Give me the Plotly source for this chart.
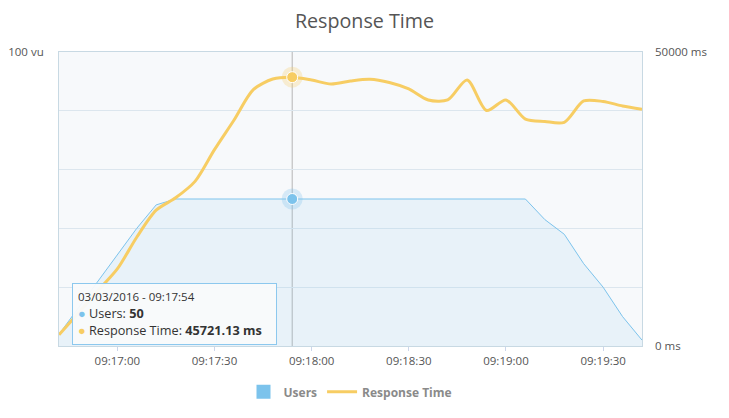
import plotly.graph_objects as go

# ---- data ----
times = [
    "2016-03-03 09:16:42", "2016-03-03 09:16:48", "2016-03-03 09:16:54",
    "2016-03-03 09:17:00", "2016-03-03 09:17:06", "2016-03-03 09:17:12",
    "2016-03-03 09:17:18", "2016-03-03 09:17:24", "2016-03-03 09:17:30",
    "2016-03-03 09:17:36", "2016-03-03 09:17:42", "2016-03-03 09:17:48",
    "2016-03-03 09:17:54", "2016-03-03 09:18:00", "2016-03-03 09:18:06",
    "2016-03-03 09:18:12", "2016-03-03 09:18:18", "2016-03-03 09:18:24",
    "2016-03-03 09:18:30", "2016-03-03 09:18:36", "2016-03-03 09:18:42",
    "2016-03-03 09:18:48", "2016-03-03 09:18:54", "2016-03-03 09:19:00",
    "2016-03-03 09:19:06", "2016-03-03 09:19:12", "2016-03-03 09:19:18",
    "2016-03-03 09:19:24", "2016-03-03 09:19:30", "2016-03-03 09:19:36",
    "2016-03-03 09:19:42",
]
users = [4, 13, 22, 31, 40, 48, 50, 50, 50, 50, 50, 50, 50, 50, 50, 50, 50, 50,
         50, 50, 50, 50, 50, 50, 50, 43, 38, 28, 20, 10, 2]
response_ms = [1900, 5600, 9400, 13100, 18500, 23100, 25200, 28000, 33400, 38400,
               43600, 45400, 45721.13, 45240, 44560, 45070, 45360, 44810, 43710,
               41840, 41840, 45240, 40050, 41840, 38600, 38180, 38050, 41670,
               41580, 40820, 40260]
x_tick_labels_format = "%H:%M:%S"
left_tickvals = [0, 20, 40, 60, 80, 100]
left_ticktext = ["", "", "", "", "", "100 vu"]
right_tickvals = [0, 50000]
right_ticktext = ["0 ms", "50000 ms"]
hover_idx = 12

BLUE = "#7cc3ec"
YELLOW = "#f7cd63"
FONT = "Open Sans"

fig = go.Figure()

# legend-only marker for Users
fig.add_trace(go.Scatter(x=[None], y=[None], mode="markers", name="Users",
                         marker=dict(symbol="square", size=14, color=BLUE)))
fig.add_trace(go.Scatter(x=times, y=users, mode="lines", name="Users", showlegend=False,
                         line=dict(color=BLUE, width=1), fill="tozeroy",
                         fillcolor="rgba(124,195,236,0.12)", yaxis="y"))
fig.add_trace(go.Scatter(x=times, y=response_ms, mode="lines", name="Response Time",
                         line=dict(color=YELLOW, width=3, shape="spline", smoothing=0.8),
                         yaxis="y2"))

# hover markers
hx = [times[hover_idx]]
fig.add_trace(go.Scatter(x=hx, y=[users[hover_idx]], mode="markers", showlegend=False,
                         marker=dict(size=21, color="rgba(124,195,236,0.28)"), yaxis="y"))
fig.add_trace(go.Scatter(x=hx, y=[users[hover_idx]], mode="markers", showlegend=False,
                         marker=dict(size=11, color=BLUE, line=dict(color="white", width=1)),
                         yaxis="y"))
fig.add_trace(go.Scatter(x=hx, y=[response_ms[hover_idx]], mode="markers", showlegend=False,
                         marker=dict(size=21, color="rgba(247,205,99,0.28)"), yaxis="y2"))
fig.add_trace(go.Scatter(x=hx, y=[response_ms[hover_idx]], mode="markers", showlegend=False,
                         marker=dict(size=11, color=YELLOW, line=dict(color="white", width=1)),
                         yaxis="y2"))

# crosshair
fig.add_shape(type="line", xref="x", yref="paper", x0=times[hover_idx], x1=times[hover_idx],
              y0=0, y1=1, line=dict(color="#b5b5b5", width=1), layer="below")

# tooltip
date_part, time_part = times[hover_idx].split(" ")
yy, mm, dd = date_part.split("-")
tooltip = (f'<span style="font-size:11.5px">{dd}/{mm}/{yy} - {time_part}</span><br>'
           f'<span style="color:{BLUE}">●</span> Users: <b>{users[hover_idx]}</b><br>'
           f'<span style="color:{YELLOW}">●</span> Response Time: <b>{response_ms[hover_idx]:.2f} ms</b>')
fig.add_annotation(xref="paper", yref="paper", x=0.0215, y=0.215, xanchor="left", yanchor="top",
                   text=tooltip, showarrow=False, align="left", width=193, height=50,
                   bgcolor="rgba(249,250,251,0.95)", bordercolor="#8cc8ee", borderwidth=1,
                   borderpad=5, font=dict(family=FONT, size=12.7, color="#333333"))

fig.update_layout(
    width=729, height=418,
    margin=dict(l=59, r=87, t=52, b=72, autoexpand=False),
    paper_bgcolor="white", plot_bgcolor="#f7f9fb",
    hovermode=False,
    title=dict(text="Response Time", x=0.5, xanchor="center", y=0.95, yanchor="middle",
               yref="container", font=dict(family=FONT, size=19.7, color="#555555")),
    font=dict(family=FONT, color="#555555"),
    showlegend=True,
    legend=dict(orientation="h", x=0.5, xanchor="center", y=-0.156, yanchor="middle",
                font=dict(family=FONT, size=12, color="#8a8a8a", weight="bold"),
                bgcolor="rgba(0,0,0,0)"),
    xaxis=dict(type="date", range=[times[0], times[-1]], tickformat=x_tick_labels_format,
               dtick=30000, tick0="2016-03-03 09:17:00", showgrid=False, zeroline=False,
               showline=True, linecolor="#c8d9e3", mirror=True, ticks="outside", ticklen=4,
               tickcolor="#ccd6eb", automargin=False,
               tickfont=dict(family=FONT, size=11.5, color="#555555")),
    yaxis=dict(range=[0, 100], tickvals=left_tickvals, ticktext=left_ticktext,
               gridcolor="#dce6ee", showline=True, linecolor="#c8d9e3", mirror=True,
               zeroline=False, ticks="", ticklabelstandoff=12, automargin=False,
               tickfont=dict(family=FONT, size=11.5, color="#555555")),
    yaxis2=dict(range=[0, 50000], tickvals=right_tickvals, ticktext=right_ticktext,
                overlaying="y", side="right", showgrid=False, zeroline=False, showline=False,
                ticks="", ticklabelstandoff=12, automargin=False,
                tickfont=dict(family=FONT, size=11.5, color="#555555")),
)

fig.write_html("out.html")
